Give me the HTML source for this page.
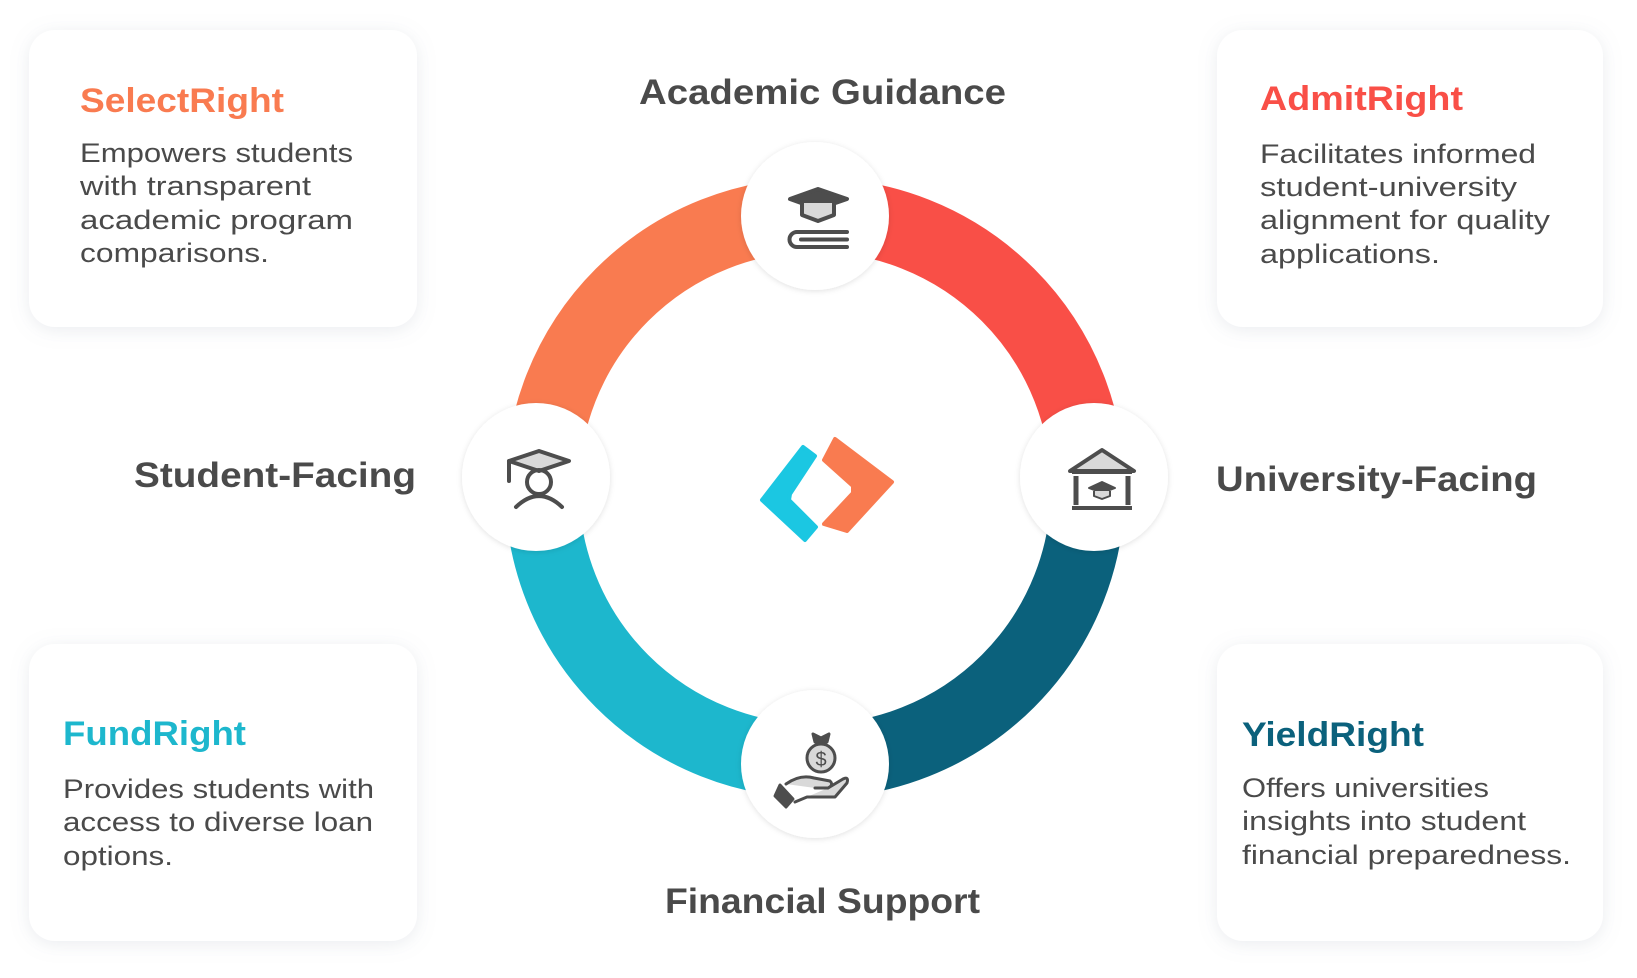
<!DOCTYPE html>
<html><head><meta charset="utf-8"><style>
html,body{margin:0;padding:0;background:#fff;}
svg{display:block;}
text{font-family:"Liberation Sans",sans-serif;}
</style></head><body>
<svg width="1637" height="978" viewBox="0 0 1637 978" xmlns="http://www.w3.org/2000/svg">
<defs>
<filter id="sh" x="-20%" y="-20%" width="140%" height="140%">
<feDropShadow dx="0" dy="3" stdDeviation="9" flood-color="#8a96a8" flood-opacity="0.18"/>
</filter>
<filter id="sh2" x="-30%" y="-30%" width="160%" height="160%">
<feDropShadow dx="0" dy="1" stdDeviation="3" flood-color="#000" flood-opacity="0.12"/>
</filter>
</defs>
<rect width="1637" height="978" fill="#fff"/>
<rect x="29" y="30" width="388" height="297" rx="26" fill="#fff" filter="url(#sh)"/>
<rect x="1217" y="30" width="386" height="297" rx="26" fill="#fff" filter="url(#sh)"/>
<rect x="29" y="644" width="388" height="297" rx="26" fill="#fff" filter="url(#sh)"/>
<rect x="1217" y="644" width="386" height="297" rx="26" fill="#fff" filter="url(#sh)"/>

<g font-size="34" font-weight="bold">
<text x="80" y="112" fill="#F97B50" textLength="204" lengthAdjust="spacingAndGlyphs">SelectRight</text>
<text x="1260" y="110" fill="#F94F47" textLength="203" lengthAdjust="spacingAndGlyphs">AdmitRight</text>
<text x="63" y="745" fill="#1DB7CD" textLength="183" lengthAdjust="spacingAndGlyphs">FundRight</text>
<text x="1242" y="746" fill="#0B617C" textLength="182" lengthAdjust="spacingAndGlyphs">YieldRight</text>
</g>
<g font-size="27" fill="#4a4a4a">
<text x="80" y="162" textLength="273" lengthAdjust="spacingAndGlyphs">Empowers students</text>
<text x="80" y="195" textLength="231" lengthAdjust="spacingAndGlyphs">with transparent</text>
<text x="80" y="229" textLength="273" lengthAdjust="spacingAndGlyphs">academic program</text>
<text x="80" y="262" textLength="189" lengthAdjust="spacingAndGlyphs">comparisons.</text>
<text x="1260" y="163" textLength="276" lengthAdjust="spacingAndGlyphs">Facilitates informed</text>
<text x="1260" y="196" textLength="257" lengthAdjust="spacingAndGlyphs">student-university</text>
<text x="1260" y="229" textLength="290" lengthAdjust="spacingAndGlyphs">alignment for quality</text>
<text x="1260" y="263" textLength="180" lengthAdjust="spacingAndGlyphs">applications.</text>
<text x="63" y="798" textLength="311" lengthAdjust="spacingAndGlyphs">Provides students with</text>
<text x="63" y="831" textLength="310" lengthAdjust="spacingAndGlyphs">access to diverse loan</text>
<text x="63" y="865" textLength="110" lengthAdjust="spacingAndGlyphs">options.</text>
<text x="1242" y="797" textLength="247" lengthAdjust="spacingAndGlyphs">Offers universities</text>
<text x="1242" y="830" textLength="284" lengthAdjust="spacingAndGlyphs">insights into student</text>
<text x="1242" y="864" textLength="329" lengthAdjust="spacingAndGlyphs">financial preparedness.</text>
</g>
<g font-size="35" font-weight="bold" fill="#4a4a4a">
<text x="639" y="104" textLength="367" lengthAdjust="spacingAndGlyphs">Academic Guidance</text>
<text x="134" y="487" textLength="282" lengthAdjust="spacingAndGlyphs">Student-Facing</text>
<text x="1216" y="491" textLength="321" lengthAdjust="spacingAndGlyphs">University-Facing</text>
<text x="665" y="913" textLength="315" lengthAdjust="spacingAndGlyphs">Financial Support</text>
</g>

<g fill="none" stroke-width="74">
<path d="M542,488 A273,273 0 0 1 815,215" stroke="#F97B50"/>
<path d="M815,215 A273,273 0 0 1 1088,488" stroke="#F94F47"/>
<path d="M1088,488 A273,273 0 0 1 815,761" stroke="#0B617C"/>
<path d="M815,761 A273,273 0 0 1 542,488" stroke="#1DB7CD"/>
</g>
<g fill="#fff" filter="url(#sh2)">
<circle cx="815" cy="216" r="74"/>
<circle cx="536" cy="477" r="74"/>
<circle cx="1094" cy="477" r="74"/>
<circle cx="815" cy="764" r="74"/>
</g>

<g stroke="#4d4d4d" stroke-width="4" stroke-linejoin="round" stroke-linecap="round">
<polygon points="818,189 847,199 818,209 790,199" fill="#4d4d4d"/>
<path d="M802,203 V215 L818,221 L834,215 V203" fill="#d9d9d9"/>
<path d="M847,232 H797 A7,7 0 0 0 797,247 H847" fill="none" stroke-width="4"/>
<path d="M801,239.5 H847" fill="none"/>
</g>
<g stroke="#4d4d4d" stroke-width="4" stroke-linejoin="round" stroke-linecap="round" fill="none">
<polygon points="539,451 569,461 539,471 509,461" fill="#d9d9d9"/>
<path d="M509,461 V481"/>
<circle cx="539" cy="482" r="12"/>
<path d="M516,507 Q539,485 562,507"/>
</g>
<g stroke="#4d4d4d" stroke-width="4" stroke-linejoin="round" fill="none">
<polygon points="1070,471 1102,450 1134,471" fill="#d9d9d9"/>
<path d="M1072,472 H1132"/>
<path d="M1076,476 V505 M1128,476 V505" stroke-width="5"/>
<path d="M1072,508 H1132" stroke-width="4"/>
<polygon points="1102,482 1115,488 1102,493 1089,488" fill="#4d4d4d" stroke-width="2"/>
<path d="M1094,491 V496 L1102,499 L1110,496 V491" fill="#d9d9d9" stroke-width="2"/>
</g>
<g stroke="#4d4d4d" stroke-width="3" stroke-linejoin="round" stroke-linecap="round">
<path d="M813,734 L821,738 L829,734 L827,742 H815 Z" fill="#4d4d4d"/>
<circle cx="821" cy="758" r="14" fill="#d9d9d9"/>
<text x="821" y="766" font-size="20" text-anchor="middle" fill="#4d4d4d" stroke="none">$</text>
<path d="M786,784 Q800,774 814,778 L830,781 Q834,785 828,788 H815 M828,788 L843,779 Q849,776 847,783 L835,797 H807 L795,802" fill="#d9d9d9"/>
<path d="M780,785 L793,799 L786,807 L775,796 Z" fill="#4d4d4d"/>
</g>
<polygon points="762,500 803,447 815,456 790,494 789,500 816,527 805,540" fill="#1BC7E2" stroke="#1BC7E2" stroke-width="4" stroke-linejoin="round"/>
<polygon points="835,439 892,482 847,531 824,524 853,493 853,486 824,460" fill="#F97B50" stroke="#F97B50" stroke-width="4" stroke-linejoin="round"/>
</svg>
</body></html>
